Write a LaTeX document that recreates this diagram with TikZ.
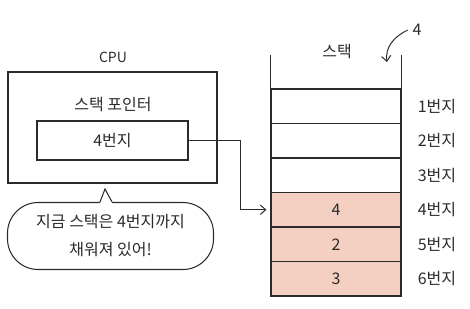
\documentclass[tikz,border=0pt]{standalone}
\usepackage{fontspec}
\setmainfont{Noto Sans CJK KR}
\usepackage{tikz}
\usetikzlibrary{arrows.meta, positioning, calc}
\definecolor{inkdark}{HTML}{2B2B2B}
\definecolor{stackfill}{HTML}{F4D0C2}
\tikzset{
    boxnode/.style={
        rectangle, draw=inkdark, line width=0.8pt, inner sep=0pt
    },
    labtext/.style={
        font=\fontsize{12}{14}\selectfont, text=inkdark
    },
    cellnode/.style={
        rectangle, draw=inkdark, fill=#1, line width=0.8pt,
        minimum width=97.5pt, minimum height=25.9pt, inner sep=0pt,
        font=\fontsize{12}{14}\selectfont, text=inkdark
    },
    cellnode/.default=white,
    ptrarrow/.style={
        -{Straight Barb[length=4pt, width=7pt]}, line width=0.75pt, color=inkdark
    },
}

\begin{document}
\begin{tikzpicture}[x=0.75pt, y=-0.75pt]
    \useasboundingbox (0,0) rectangle (470,308);

    % CPU and stack pointer
    \node[labtext, font=\fontsize{10.5}{12}\selectfont] (cpulab) at (113,57) {CPU};
    \node[boxnode, minimum width=156.75pt, minimum height=83.25pt] (cpu) at (112.5,127.5) {};
    \node[labtext] (sptitle) at (113,105) {스택 포인터};
    \node[boxnode, labtext, minimum width=113.25pt, minimum height=29.25pt] (ptr) at (112.5,140.5) {4번지};

    % speech bubble
    \node[boxnode, rounded corners=23pt, minimum width=154.5pt, minimum height=50.25pt,
          labtext, font=\fontsize{12}{21}\selectfont, align=center] (bubble) at (110.5,236)
          {지금 스택은 4번지까지\\채워져 있어!};
    \coordinate (ptip) at (105,189);
    \fill[white] ($(bubble.north)+(-11,2)$) -- (ptip) -- ($(bubble.north)+(2,2)$) -- cycle;
    \draw[inkdark, line width=0.8pt] ($(bubble.north)+(-10.5,0)$) -- (ptip) -- ($(bubble.north)+(1.5,0)$);

    % stack
    \node[labtext] (stacklab) at (337,52) {스택};
    \foreach \i/\val/\fc in {1//white, 2//white, 3//white, 4/4/stackfill, 5/2/stackfill, 6/3/stackfill} {
        \node[cellnode=\fc] (cell\i) at (336,{71.75+34.5*\i}) {\val};
        \node[labtext] (addr\i) at (437,{71.75+34.5*\i}) {\i{}번지};
    }
    \draw[inkdark, line width=0.8pt] (cell1.north west) -- ++(0,-33);
    \draw[inkdark, line width=0.8pt] (cell1.north east) -- ++(0,-33);

    % top pointer
    \node[labtext] (toplab) at (417,30) {4};
    \coordinate (toptip) at (387,62);
    \draw[ptrarrow] (toplab.west) .. controls (393,37) and (385,48) .. (toptip);

    % stack pointer to cell
    \coordinate (bend) at (240,140.5);
    \draw[ptrarrow] (ptr.east) -- (bend) |- ([xshift=-3pt]cell4.west);
\end{tikzpicture}
\end{document}
